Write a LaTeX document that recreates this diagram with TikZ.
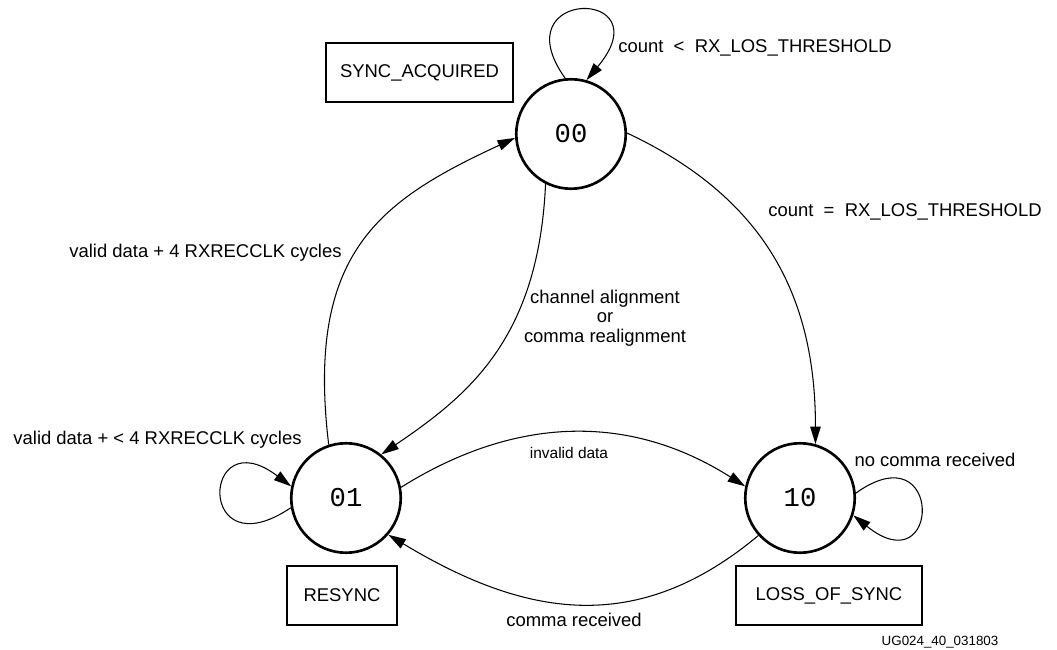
\documentclass[tikz,border=0pt]{standalone}
\usepackage{fontspec}
\setmainfont{Liberation Sans}
\setmonofont{Liberation Mono}
\usetikzlibrary{arrows.meta}

\begin{document}
\begin{tikzpicture}[x=0.02cm,y=0.02cm,
		state/.style={circle,draw,line width=1.5pt,minimum size=2.19cm,inner sep=0pt,
			font=\fontsize{15.5}{18}\ttfamily},
		tag/.style={rectangle,draw,line width=1.2pt,minimum height=1.18cm,inner sep=0pt,
			font=\fontsize{10.5}{12.6}\selectfont},
		lbl/.style={inner sep=0pt,font=\fontsize{10.5}{12.6}\selectfont},
		trans/.style={line width=0.6pt,-{Triangle[length=10pt,width=6pt]}}]
				\useasboundingbox (0,0) rectangle (1057,649);
				\node[state] (s00) at (571,515) {00};
				\node[state] (s01) at (346,151) {01};
				\node[state] (s10) at (800,151) {10};
				\node[tag,minimum width=3.74cm] (tagsync) at (419.5,576.5)
					{SYNC\_ACQUIRED};
				\node[tag,minimum width=2.2cm] (tagresync) at (342,53.5)
					{RESYNC};
				\node[tag,minimum width=3.72cm] (tagloss) at (829,53.5)
					{LOSS\_OF\_SYNC};
				\draw[trans] (s00.96) .. controls +(-65,91) and +(78,93) .. (s00.74);
				\draw[trans] (s01.108) .. controls +(-23,192) and +(-136,-63) .. (s00.184);
				\draw[trans] (s00.243) .. controls +(-7,-155) and +(87,59) .. (s01.51);
				\draw[trans] (s00.1) .. controls +(136,-64) and +(0,150) .. (s10.74);
				\draw[trans] (s01.11) .. controls +(115,72) and +(-115,73) .. (s10.168);
				\draw[trans] (s10.222) .. controls +(-122,-102) and +(136,-82) .. (s01.319);
				\draw[trans] (s01.190) .. controls +(-95,-64) and +(-90,68) .. (s01.168);
				\draw[trans] (s10.5) .. controls +(88,63) and +(88,-71) .. (s10.342);
				\node[lbl,anchor=west] (lblless) at (618,601)
					{count\ \ <\ \ RX\_LOS\_THRESHOLD};
				\node[lbl,anchor=west] (lbleq) at (768,437)
					{count\ \ =\ \ RX\_LOS\_THRESHOLD};
				\node[lbl,align=center,font=\fontsize{10.5}{11.2}\selectfont] (lblalign) at (605,331)
					{channel alignment\\or\\comma realignment};
				\node[lbl] (lblvalid) at (205.5,396)
					{valid data + 4 RXRECCLK cycles};
				\node[lbl] (lblwait) at (157.5,209)
					{valid data + < 4 RXRECCLK cycles};
				\node[lbl,font=\fontsize{8.8}{10}\selectfont] (lblinvalid) at (569,196)
					{invalid data};
				\node[lbl] (lblcomma) at (574,29)
					{comma received};
				\node[lbl] (lblnocomma) at (935,189)
					{no comma received};
				\node[lbl,font=\fontsize{7.6}{9}\selectfont] (lblfig) at (940,7)
					{UG024\_40\_031803};
			\end{tikzpicture}
\end{document}
